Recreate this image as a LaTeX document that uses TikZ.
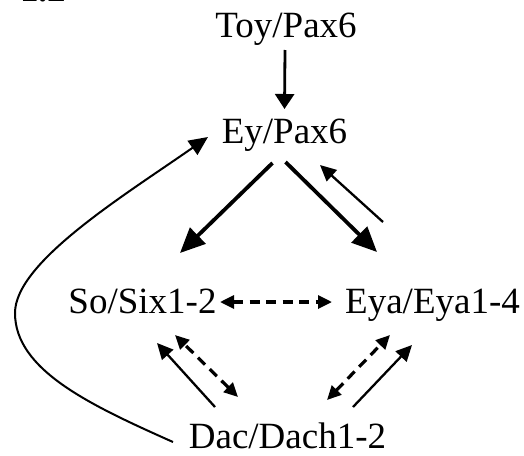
\documentclass[tikz,border=0pt]{standalone}
\usepackage{fontspec}
\setmainfont{Liberation Serif}
\usetikzlibrary{arrows.meta}
\begin{document}
\begin{tikzpicture}[x=1pt,y=-1pt,
  lbl/.style={inner sep=0pt,anchor=base,font=\fontsize{37}{40}\selectfont},
  heavy/.style={line width=3.8pt,-{Triangle[length=25pt,width=22pt]}},
  midarrow/.style={line width=2.8pt,-{Triangle[length=15pt,width=19pt]}},
  light/.style={line width=2.3pt,-{Triangle[length=16pt,width=15pt]}},
  dashlink/.style={line width=3.2pt,dash pattern=on 10pt off 6.5pt,
    {Triangle[length=14pt,width=13pt]}-{Triangle[length=14pt,width=13pt]}},
  loop/.style={line width=2pt,-{Triangle[length=19pt,width=17pt]}}]
\useasboundingbox (0,0) rectangle (524,455);
\clip (0,0) rectangle (524,455);
\fill[white] (0,0) rectangle (524,455);

% panel number, running off the top edge
\node[inner sep=0pt,anchor=base west,font=\fontsize{37}{40}\selectfont\bfseries] (panel) at (20,1.5) {1.2};

% gene nodes
\node[lbl] (toy) at (286,37) {Toy/Pax6};
\node[lbl] (ey)  at (284.5,143) {Ey/Pax6};
\node[lbl] (so)  at (142.5,313) {So/Six1-2};
\node[lbl] (eya) at (432.5,313) {Eya/Eya1-4};
\node[lbl] (dac) at (287.5,448) {Dac/Dach1-2};

% Toy activates Ey
\draw[midarrow] ([shift={(-1,13)}]toy.base) -- ([shift={(0,-34)}]ey.base);

% Ey activates So and Eya
\draw[heavy] ([shift={(-12,20)}]ey.base) -- ([shift={(37.5,-60)}]so.base);
\draw[heavy] ([shift={(1,19)}]ey.base) -- ([shift={(-55.5,-61)}]eya.base);

% Eya feeds back to Ey
\draw[light] ([shift={(-49.5,-91)}]eya.base) -- ([shift={(35.5,22)}]ey.base);

% So -- Eya interaction
\draw[dashlink] ([shift={(77.5,-11)}]so.base) -- ([shift={(-100.5,-11)}]eya.base);

% Dac links to So
\draw[light] ([shift={(-72.5,-41)}]dac.base) -- ([shift={(14.5,30)}]so.base);
\draw[dashlink] ([shift={(-49.5,-51)}]dac.base) -- ([shift={(32.5,22)}]so.base);

% Dac links to Eya
\draw[dashlink] ([shift={(39.5,-48)}]dac.base) -- ([shift={(-42.5,22)}]eya.base);
\draw[light] ([shift={(65.5,-41)}]dac.base) -- ([shift={(-20.5,32)}]eya.base);

% Dac feeds back to Ey along the left side
\draw[loop] ([shift={(-114.5,-6)}]dac.base)
  .. controls (90,405) and (15,370) .. (15,313)
  .. controls (15,262) and (125,195) .. ([shift={(-76.5,-6)}]ey.base);
\end{tikzpicture}
\end{document}
